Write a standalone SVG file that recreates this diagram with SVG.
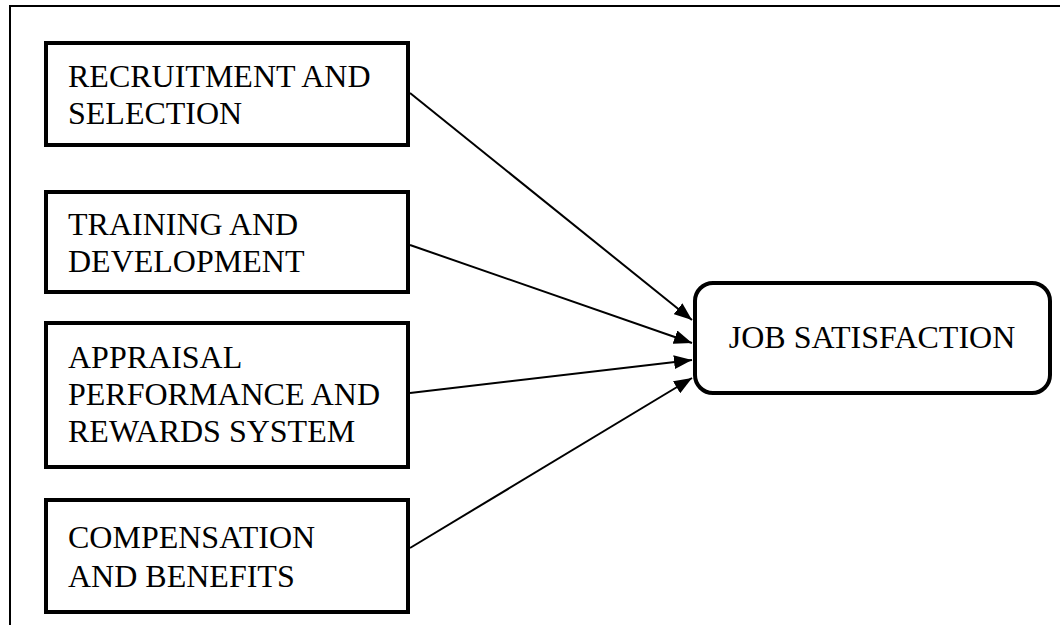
<svg xmlns="http://www.w3.org/2000/svg" width="1060" height="625" viewBox="0 0 1060 625">
<defs>
<marker id="ah" markerWidth="9" markerHeight="7" refX="9" refY="3.5" orient="auto" markerUnits="strokeWidth">
<path d="M0,0 L9,3.5 L0,7 Z" fill="#000"/>
</marker>
<style>
.box{fill:#fff;stroke:#000;stroke-width:4}
.t{font-family:"Liberation Serif","Times New Roman",serif;font-size:32px;fill:#000}
.c{stroke:#000;stroke-width:2;fill:none;marker-end:url(#ah)}
.frame{stroke:#000;stroke-width:2;fill:none}
</style>
</defs>
<rect width="1060" height="625" fill="#fff"/>
<path class="frame" d="M10,625 L10,6 L1060,6"/>
<g id="n1">
<rect class="box" x="46" y="43" width="362" height="102"/>
<text class="t" x="68" y="87">RECRUITMENT AND</text>
<text class="t" x="68" y="124">SELECTION</text>
</g>
<g id="n2">
<rect class="box" x="46" y="192" width="362" height="100"/>
<text class="t" x="68" y="235">TRAINING AND</text>
<text class="t" x="68" y="272">DEVELOPMENT</text>
</g>
<g id="n3">
<rect class="box" x="46" y="323" width="362" height="144"/>
<text class="t" x="68" y="368">APPRAISAL</text>
<text class="t" x="68" y="405">PERFORMANCE AND</text>
<text class="t" x="68" y="442">REWARDS SYSTEM</text>
</g>
<g id="n4">
<rect class="box" x="46" y="500" width="362" height="112"/>
<text class="t" x="68" y="548">COMPENSATION</text>
<text class="t" x="68" y="587">AND BENEFITS</text>
</g>
<g id="n5">
<rect class="box" x="695" y="283" width="355" height="110" rx="18" ry="18"/>
<text class="t" x="872" y="348" text-anchor="middle">JOB SATISFACTION</text>
</g>
<g id="connectors">
<line class="c" x1="410" y1="93" x2="692" y2="320"/>
<line class="c" x1="410" y1="245" x2="692" y2="343"/>
<line class="c" x1="410" y1="393" x2="692" y2="360"/>
<line class="c" x1="410" y1="548" x2="692" y2="378"/>
</g>
</svg>
